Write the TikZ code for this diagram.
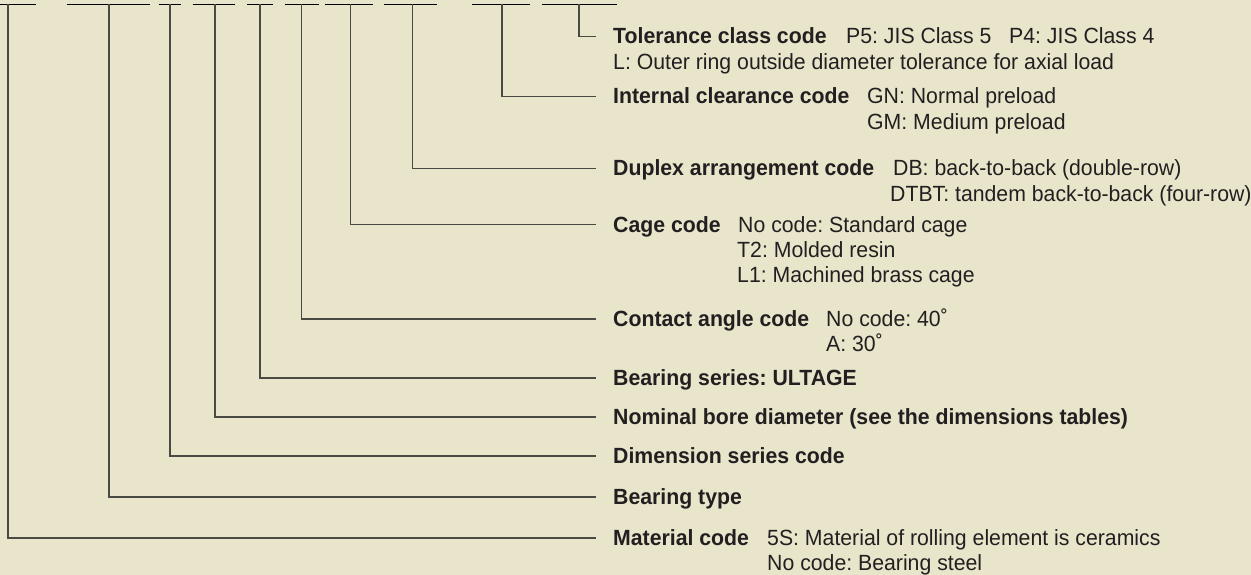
\documentclass[tikz,border=0pt]{standalone}
\usepackage{fontspec}
\setmainfont{Liberation Sans}[FakeStretch=0.966]
\definecolor{bg}{HTML}{E9E5CB}
\definecolor{ln}{HTML}{4A4A44}
\definecolor{tx}{HTML}{231F20}
\frenchspacing
\begin{document}
\begin{tikzpicture}[x=1pt,y=-1pt,
  bar/.style={draw=black,line width=1.2pt},
  conn/.style={draw=ln,line width=1.2pt},
  ttl/.style={anchor=base west,inner sep=0pt,text=tx,font=\fontsize{22}{27}\selectfont\bfseries},
  dsc/.style={anchor=base west,inner sep=0pt,text=tx,font=\fontsize{22}{27}\selectfont}]
\fill[bg] (0,0) rectangle (1251,575);
\useasboundingbox (0,0) rectangle (1251,575);
% top bars (code placeholders)
\coordinate (b1a) at (0,4.5);     \coordinate (b1b) at (36,4.5);    \coordinate (v1) at (8,4.5);
\coordinate (b2a) at (66.5,4.5);  \coordinate (b2b) at (149.5,4.5); \coordinate (v2) at (109,4.5);
\coordinate (b3a) at (158.5,4.5); \coordinate (b3b) at (181,4.5);   \coordinate (v3) at (170,4.5);
\coordinate (b4a) at (192.5,4.5); \coordinate (b4b) at (235,4.5);   \coordinate (v4) at (215,4.5);
\coordinate (b5a) at (247,4.5);   \coordinate (b5b) at (272.5,4.5); \coordinate (v5) at (260,4.5);
\coordinate (b6a) at (285,4.5);   \coordinate (b6b) at (318.5,4.5); \coordinate (v6) at (301.5,4.5);
\coordinate (b7a) at (325,4.5);   \coordinate (b7b) at (372.5,4.5); \coordinate (v7) at (350.5,4.5);
\coordinate (b8a) at (383.5,4.5); \coordinate (b8b) at (437,4.5);   \coordinate (v8) at (412.5,4.5);
\coordinate (b9a) at (471.5,4.5); \coordinate (b9b) at (530,4.5);   \coordinate (v9) at (502,4.5);
\coordinate (b10a) at (542,4.5);  \coordinate (b10b) at (617,4.5);  \coordinate (v10) at (579,4.5);
\foreach \i in {1,...,10} {\draw[bar] (b\i a) -- (b\i b);}
% connector ends
\coordinate (e10) at (596,36.7);
\coordinate (e9) at (596,96.7);
\coordinate (e8) at (596,168.3);
\coordinate (e7) at (596,224.7);
\coordinate (e6) at (596,319);
\coordinate (e5) at (596,378);
\coordinate (e4) at (596,417);
\coordinate (e3) at (596,456);
\coordinate (e2) at (596,497);
\coordinate (e1) at (596,538);
\foreach \i in {1,...,10} {\draw[conn] (v\i) |- (e\i);}
% labels
\node[ttl] (t10) at (613,44) {Tolerance class code};
\node[dsc] (d10a) at (846,44) {P5: JIS Class 5};
\node[dsc] (d10b) at (1009,44) {P4: JIS Class 4};
\node[dsc] (d10c) at (613,70) {L: Outer ring outside diameter tolerance for axial load};
\node[ttl] (t9) at (613,104) {Internal clearance code};
\node[dsc] (d9a) at (867,104) {GN: Normal preload};
\node[dsc] (d9b) at (867,130) {GM: Medium preload};
\node[ttl] (t8) at (613,175.6) {Duplex arrangement code};
\node[dsc] (d8a) at (893,175.6) {DB: back-to-back (double-row)};
\node[dsc] (d8b) at (890,201.6) {DTBT: tandem back-to-back (four-row)};
\node[ttl] (t7) at (613,232) {Cage code};
\node[dsc] (d7a) at (738,232) {No code: Standard cage};
\node[dsc] (d7b) at (737,257.3) {T2: Molded resin};
\node[dsc] (d7c) at (737,282.6) {L1: Machined brass cage};
\node[ttl] (t6) at (613,326.3) {Contact angle code};
\node[dsc] (d6a) at (826,326.3) {No code: 40˚};
\node[dsc] (d6b) at (826,351.6) {A: 30˚};
\node[ttl] (t5) at (613,385.5) {Bearing series: ULTAGE};
\node[ttl] (t4) at (613,424.3) {Nominal bore diameter (see the dimensions tables)};
\node[ttl] (t3) at (613,463.3) {Dimension series code};
\node[ttl] (t2) at (613,504) {Bearing type};
\node[ttl] (t1) at (613,545) {Material code};
\node[dsc] (d1a) at (767,545) {5S: Material of rolling element is ceramics};
\node[dsc] (d1b) at (767,570.5) {No code: Bearing steel};
\end{tikzpicture}
\end{document}
